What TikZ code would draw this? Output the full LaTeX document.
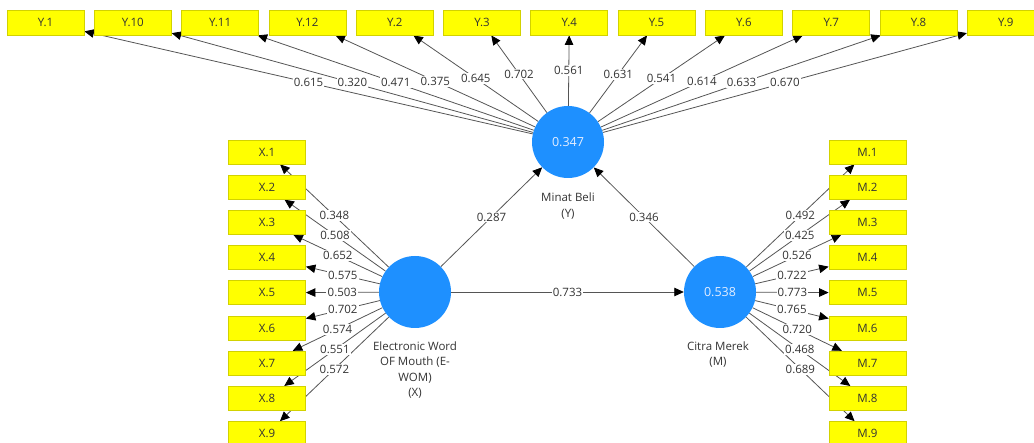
\documentclass[tikz,border=0pt]{standalone}
\usepackage{fontspec}
\setmainfont{Open Sans}
\usetikzlibrary{arrows.meta}
\pgfdeclarelayer{edges}
\pgfdeclarelayer{labels}
\pgfsetlayers{edges,labels,main}
\definecolor{indfill}{HTML}{FFFF00}
\definecolor{inddraw}{HTML}{D2D200}
\definecolor{latfill}{HTML}{1E90FF}
\definecolor{edgegray}{HTML}{555555}
\definecolor{txtgray}{HTML}{333333}
\definecolor{lattext}{HTML}{E4EEFF}

\begin{document}
\begin{tikzpicture}[x=1pt,y=-1pt,
  indicator/.style={draw=inddraw, fill=indfill, line width=0.8pt,
    minimum width=77pt, minimum height=25pt, inner sep=0pt,
    font=\fontsize{11.5}{13}\selectfont, text=txtgray},
  latent/.style={circle, fill=latfill, draw=none, minimum size=72pt,
    inner sep=0pt, text=lattext, font=\fontsize{12.5}{14}\selectfont},
  link/.style={draw=edgegray, line width=0.8pt,
    -{Triangle[length=9.5pt,width=8.5pt,color=black]}},
  weight/.style={fill=white, inner sep=1.2pt, text=txtgray,
    font=\fontsize{11.5}{13}\selectfont},
  caption/.style={align=center, text=txtgray,
    font=\fontsize{11.5}{15.5}\selectfont}
]
\useasboundingbox (0,0) rectangle (1034,443);

% latent constructs
\node[latent] (Y) at (568,142) {0.347};
\node[latent] (X) at (415,292) {};
\node[latent] (M) at (720,292) {0.538};

\node[caption] (Ycap) at (568,206) {Minat Beli\\(Y)};
\node[caption] (Xcap) at (415,370) {Electronic Word\\OF Mouth (E-\\WOM)\\(X)};
\node[caption] (Mcap) at (718,354.5) {Citra Merek\\(M)};

% structural paths
\begin{pgfonlayer}{edges}
  \draw[link] (X) -- (Y);
  \draw[link] (M) -- (Y);
  \draw[link] (X) -- (M);
\end{pgfonlayer}
\begin{pgfonlayer}{labels}
  \path (X) -- (Y) node[weight, midway] (wXY) {0.287};
  \path (M) -- (Y) node[weight, midway] (wMY) {0.346};
  \path (X) -- (M) node[weight, midway] (wXM) {0.733};
\end{pgfonlayer}

% indicators of Minat Beli
\foreach \lab/\w [count=\i from 0] in
  {1/0.615,10/0.320,11/0.471,12/0.375,2/0.645,3/0.702,
   4/0.561,5/0.631,6/0.541,7/0.614,8/0.633,9/0.670}{
  \node[indicator] (y\lab) at ({45.5+87.3*\i},22.5) {Y.\lab};
  \begin{pgfonlayer}{edges}
    \draw[link] (Y) -- (y\lab);
  \end{pgfonlayer}
  \begin{pgfonlayer}{labels}
    \path (Y) -- (y\lab) node[weight, midway] (wy\lab) {\w};
  \end{pgfonlayer}
}

% indicators of E-WOM
\foreach \w [count=\i] in
  {0.348,0.508,0.652,0.575,0.503,0.702,0.574,0.551,0.572}{
  \node[indicator, minimum height=24pt] (x\i) at (267,{152+35.2*(\i-1)}) {X.\i};
  \begin{pgfonlayer}{edges}
    \draw[link] (X) -- (x\i);
  \end{pgfonlayer}
  \begin{pgfonlayer}{labels}
    \path (X) -- (x\i) node[weight, midway] (wx\i) {\w};
  \end{pgfonlayer}
}

% indicators of Citra Merek
\foreach \w [count=\i] in
  {0.492,0.425,0.526,0.722,0.773,0.765,0.720,0.468,0.689}{
  \node[indicator, minimum height=24pt] (m\i) at (867.5,{152+35.2*(\i-1)}) {M.\i};
  \begin{pgfonlayer}{edges}
    \draw[link] (M) -- (m\i);
  \end{pgfonlayer}
  \begin{pgfonlayer}{labels}
    \path (M) -- (m\i) node[weight, midway] (wm\i) {\w};
  \end{pgfonlayer}
}
\end{tikzpicture}
\end{document}
